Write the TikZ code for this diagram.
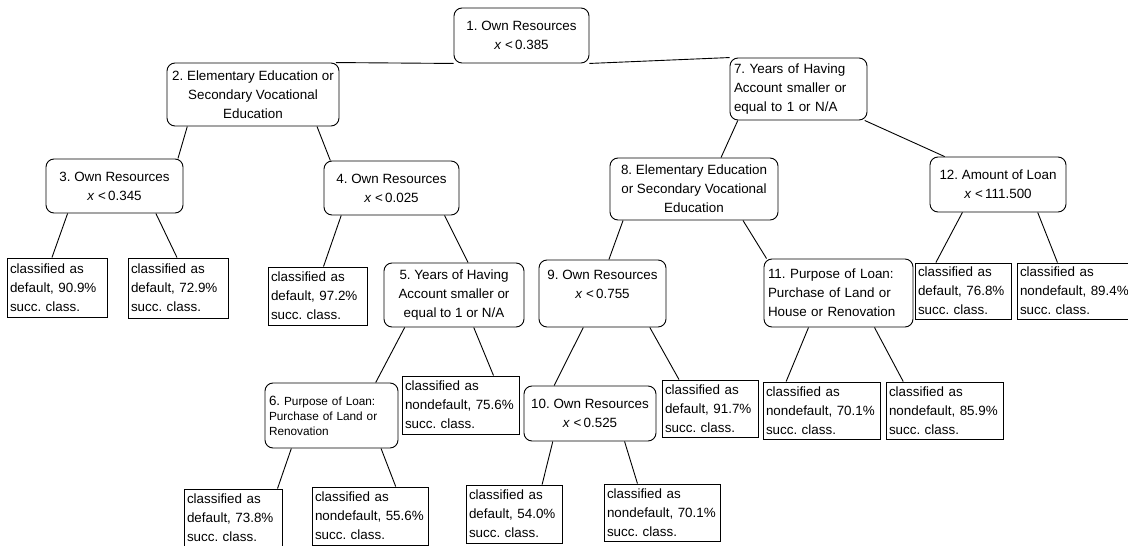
\documentclass[tikz,border=0pt]{standalone}
\usepackage{fontspec}
\setmainfont{Liberation Sans}
\usetikzlibrary{calc}
\frenchspacing

\begin{document}
\begin{tikzpicture}[x=1pt,y=-1pt,line width=.9pt,
  every node/.append style={font=\fontsize{13.4}{19}\selectfont, inner ysep=0pt},
  split/.style={draw, rounded corners=8pt, inner xsep=4pt, align=center},
  leaf/.style={draw, inner xsep=3pt, align=left}]
\useasboundingbox (0,0) rectangle (1128,546);
% splitting nodes
\node[split, minimum width=135, minimum height=55] (n1) at (521.5,35.5) {1. Own Resources\\ \textit{x} <\,0.385};
\node[split, minimum width=172, minimum height=63] (n2) at (253,94.5) {2. Elementary Education or\\ Secondary Vocational\\ Education};
\node[split, minimum width=137, minimum height=54] (n3) at (114.5,186) {3. Own Resources\\ \textit{x} <\,0.345};
\node[split, minimum width=135, minimum height=54] (n4) at (391.5,188) {4. Own Resources\\ \textit{x} <\,0.025};
\node[split, minimum width=140, minimum height=64] (n5) at (454,295) {5. Years of Having\\ Account smaller or\\ equal to 1 or N/A};
\node[split, align=left, text width=125pt, minimum height=65, font=\fontsize{11.8}{15}\selectfont] (n6) at (331.5,415.5) {{\fontsize{13.4}{15}\selectfont 6.} Purpose of Loan:\\ Purchase of Land or\\ Renovation};
\node[split, align=left, text width=129pt, minimum height=62] (n7) at (798.5,89) {7. Years of Having\\ Account smaller or\\ equal to 1 or N/A};
\node[split, minimum width=168, minimum height=62] (n8) at (694,189) {8. Elementary Education\\ or Secondary Vocational\\ Education};
\node[split, minimum width=127, minimum height=67] (n9) at (602.5,293.5) {9. Own Resources\\ \textit{x} <\,0.755\\ \mbox{}};
\node[split, minimum width=132, minimum height=55] (n10) at (590,413.5) {10. Own Resources\\ \textit{x} <\,0.525};
\node[split, align=left, text width=141pt, minimum height=68] (n11) at (838.5,293) {11. Purpose of Loan:\\ Purchase of Land or\\ House or Renovation};
\node[split, minimum width=136, minimum height=55] (n12) at (998,184.5) {12. Amount of Loan\\ \textit{x} <\,111.500};
% leaves
\node[leaf, text width=94pt, minimum height=59] (l3a) at (57,287.5) {classified as\\ default, 90.9\%\\ succ. class.};
\node[leaf, text width=94pt, minimum height=60] (l3b) at (178,288) {classified as\\ default, 72.9\%\\ succ. class.};
\node[leaf, text width=93pt, minimum height=58] (l4a) at (317.5,296) {classified as\\ default, 97.2\%\\ succ. class.};
\node[leaf, text width=111pt, minimum height=58] (l5b) at (460.5,405) {classified as\\ nondefault, 75.6\%\\ succ. class.};
\node[leaf, text width=92pt, minimum height=58] (l6a) at (233,518) {classified as\\ default, 73.8\%\\ succ. class.};
\node[leaf, text width=110pt, minimum height=58] (l6b) at (370,516) {classified as\\ nondefault, 55.6\%\\ succ. class.};
\node[leaf, text width=90pt, minimum height=57] (l9b) at (710,408.5) {classified as\\ default, 91.7\%\\ succ. class.};
\node[leaf, text width=90pt, minimum height=58] (l10a) at (514,514) {classified as\\ default, 54.0\%\\ succ. class.};
\node[leaf, text width=110pt, minimum height=57] (l10b) at (662,512.5) {classified as\\ nondefault, 70.1\%\\ succ. class.};
\node[leaf, text width=111pt, minimum height=57] (l11a) at (821.5,410.5) {classified as\\ nondefault, 70.1\%\\ succ. class.};
\node[leaf, text width=111pt, minimum height=57] (l11b) at (944.5,410.5) {classified as\\ nondefault, 85.9\%\\ succ. class.};
\node[leaf, text width=90pt, minimum height=56] (l12a) at (963,291) {classified as\\ default, 76.8\%\\ succ. class.};
\node[leaf, text width=110pt, minimum height=56] (l12b) at (1075,291) {classified as\\ nondefault, 89.4\%\\ succ. class.};
% branches
\foreach \p/\c/\a/\b in {n1/n2/0/.98, n1/n7/1/0, n2/n3/.12/.96, n2/n4/.87/.05,
  n3/l3a/.16/.45, n3/l3b/.80/.49, n4/l4a/.13/.56, n4/n5/.89/.60,
  n5/n6/.15/.83, n5/l5b/.64/.78, n6/l6a/.20/.95, n6/l6b/.87/.72,
  n7/n8/.06/.66, n7/n12/.98/.11, n8/n9/.08/.55, n8/n11/.79/.02,
  n9/n10/.35/.23, n9/l9b/.87/.18, n10/l10a/.22/.79, n10/l10b/.76/.29,
  n11/l11a/.30/.20, n11/l11b/.74/.15, n12/l12a/.24/.22, n12/l12b/.79/.35}
  \draw ($(\p.south west)!\a!(\p.south east)$) -- ($(\c.north west)!\b!(\c.north east)$);
\end{tikzpicture}
\end{document}
